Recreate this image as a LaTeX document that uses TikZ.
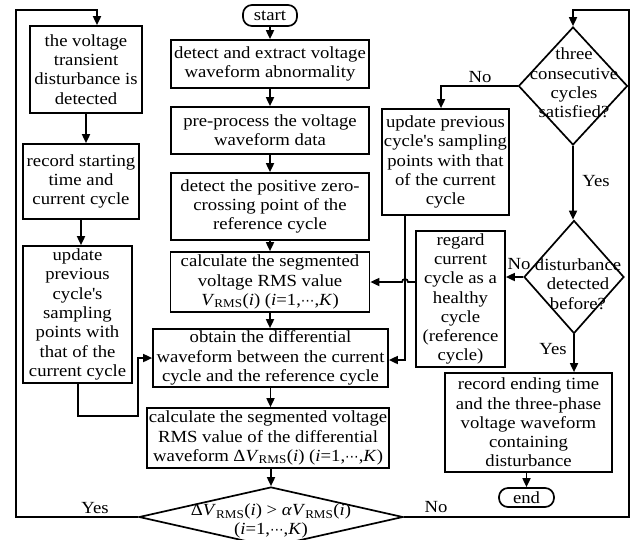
\documentclass[tikz,border=0pt]{standalone}
\usepackage{fontspec}
\setmainfont{Liberation Serif}[FakeStretch=1.1]
\newfontfamily\djs{DejaVu Sans}[Scale=0.8]
\usetikzlibrary{arrows.meta,shapes.geometric}
\newcommand{\fs}{\fontsize{17}{19.3}\selectfont}
\newcommand{\VR}{\textit{V}\textsubscript{RMS}}
\newcommand{\cd}{{\djs ⋯}}
\newcommand{\ap}{\textquotesingle}
\tikzset{
  ln/.style={line width=1.7pt},
  arr/.style={line width=1.7pt, -{Triangle[length=9pt,width=8pt]}},
  box/.style={draw, line width=1.7pt, align=center, inner sep=0pt, font=\fs},
  term/.style={box, rounded corners=9pt},
  dia/.style={draw, line width=1.7pt, diamond, inner sep=0pt},
  txt/.style={align=center, inner sep=0pt, font=\fs},
  lab/.style={inner sep=0pt, font=\fs}
}
\begin{document}
\begin{tikzpicture}[x=1pt, y=-1pt]
\useasboundingbox (0,0) rectangle (636,539);
% left column
\node[box, minimum width=112, minimum height=87] (L1) at (86,69.5) {the voltage\\transient\\disturbance is\\detected};
\node[box, minimum width=116, minimum height=75] (L2) at (81,181.5) {record starting\\time and\\current cycle};
\node[box, minimum width=109, minimum height=137] (L3) at (77.5,314.5) {update\\previous\\cycle\ap s\\sampling\\points with\\that of the\\current cycle};
% centre column
\node[term, minimum width=54, minimum height=21] (start) at (270,15.5) {start};
\node[box, minimum width=198, minimum height=48] (C1) at (270,64) {detect and extract voltage\\waveform abnormality};
\node[box, minimum width=198, minimum height=47] (C2) at (270,130.5) {pre-process the voltage\\waveform data};
\node[box, minimum width=198, minimum height=67] (C3) at (270,206.5) {detect the positive zero-\\crossing point of the\\reference cycle};
\node[box, minimum width=199, minimum height=60] (C4) at (270,282) {calculate the segmented\\voltage RMS value\\\VR(\textit{i}) (\textit{i}=1,\cd,\textit{K})};
\node[box, minimum width=235, minimum height=58] (C5) at (270.5,358) {obtain the differential\\waveform between the current\\cycle and the reference cycle};
\node[box, minimum width=242, minimum height=60] (C6) at (268,438) {calculate the segmented voltage\\RMS value of the differential\\waveform Δ\VR(\textit{i}) (\textit{i}=1,\cd,\textit{K})};
\node[dia, minimum width=264, minimum height=60] (D0) at (271,517) {};
\node[txt] (D0t) at (271,521) {Δ\VR(\textit{i}) > \textit{α}\VR(\textit{i})\\(\textit{i}=1,\cd,\textit{K})};
% right column
\node[dia, minimum width=109, minimum height=118] (D1) at (573,86) {};
\node[txt] (D1t) at (574,83) {three\\consecutive\\cycles\\satisfied?};
\node[box, minimum width=127, minimum height=106] (R1) at (445.5,162) {update previous\\cycle\ap s sampling\\points with that\\of the current\\cycle};
\node[dia, minimum width=100, minimum height=113] (D2) at (574,277) {};
\node[txt] (D2t) at (578,284) {disturbance\\detected\\before?};
\node[box, minimum width=89, minimum height=136] (R2) at (460.5,299) {regard\\current\\cycle as a\\healthy\\cycle\\(reference\\cycle)};
\node[box, minimum width=167, minimum height=99] (R3) at (528.5,422.5) {record ending time\\and the three-phase\\voltage waveform\\containing\\disturbance};
\node[term, minimum width=55, minimum height=19] (end) at (526.5,497.5) {end};
% labels
\node[lab] (y0) at (95,508) {Yes};
\node[lab] (n0) at (436,507) {No};
\node[lab] (n1) at (480,77) {No};
\node[lab] (y1) at (596,181) {Yes};
\node[lab] (n2) at (519,264) {No};
\node[lab] (y2) at (553,349) {Yes};
% coordinates
\coordinate (ya) at (16,517);
\coordinate (yb) at (16,10);
\coordinate (yc) at (97,10);
\coordinate (la) at (78,416);
\coordinate (lb) at (138,416);
\coordinate (lc) at (138,358);
\coordinate (na) at (629,517);
\coordinate (nb) at (629,10);
\coordinate (nc) at (573,10);
\coordinate (ra) at (441,86);
\coordinate (rb) at (405,360);
% connectors
\draw[arr] (start.south) -- (C1.north);
\draw[arr] (C1.south) -- (C2.north);
\draw[arr] (C2.south) -- (C3.north);
\draw[arr] (C3.south) -- (C4.north);
\draw[arr] (C4.south) -- (C4.south |- C5.north);
\draw[arr] (C5.south) -- (C5.south |- C6.north);
\draw[arr] (D0.north |- C6.south) -- (D0.north);
\draw[arr] (L1.south) -- (L1.south |- L2.north);
\draw[arr] (L2.south) -- (L2.south |- L3.north);
\draw[arr] (D0.west) -- (ya) -- (yb) -- (yc) -- (yc |- L1.north);
\draw[arr] (L3.south -| la) -- (la) -- (lb) -- (lc) -- (C5.west);
\draw[arr] (D0.east) -- (na) -- (nb) -- (nc) -- (D1.north);
\draw[arr] (D1.west) -- (ra) -- (ra |- R1.north);
\draw[arr] (D1.south) -- (D1.south |- D2.north);
\draw[arr] (R1.south -| rb) -- (rb) -- (rb -| C5.east);
\draw[arr] (D2.west) -- (D2.west -| R2.east);
\draw[arr] (R2.west |- C4.east) -- (408,282) arc[start angle=0, end angle=-180, radius=3] -- (C4.east);
\draw[arr] (D2.south) -- (D2.south |- R3.north);
\draw[arr] (end.north |- R3.south) -- (end.north);
\end{tikzpicture}
\end{document}
